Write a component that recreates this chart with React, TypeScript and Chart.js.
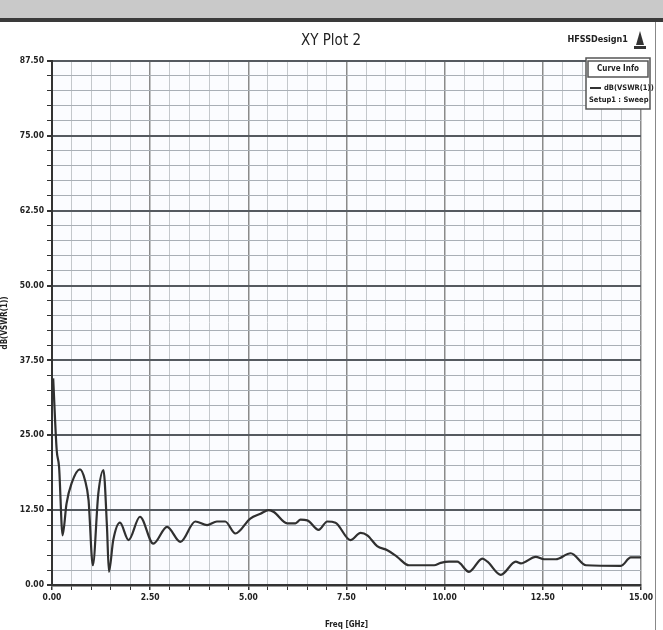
import React, { useEffect, useRef } from "react";
import { Chart, registerables } from "chart.js";

Chart.register(...registerables);

const freqGHz = [0.03, 0.12, 0.18, 0.27, 0.37, 0.5, 0.71, 0.84, 0.93, 1.04, 1.18, 1.31, 1.4, 1.45, 1.56, 1.73, 1.95, 2.24, 2.58, 2.93, 3.27, 3.65, 3.95, 4.2, 4.41, 4.67, 5.05, 5.31, 5.52, 5.65, 5.99, 6.2, 6.33, 6.5, 6.79, 7.01, 7.22, 7.6, 7.86, 8.03, 8.28, 8.54, 8.79, 9.09, 9.73, 9.9, 10.11, 10.32, 10.62, 10.96, 11.09, 11.43, 11.81, 11.94, 12.32, 12.53, 12.83, 13.21, 13.6, 14.49, 14.74, 15.0];
const dbVswr = [34.5, 22.5, 19.7, 8.3, 13.6, 17, 19.3, 17.5, 14.2, 3.3, 15.3, 19.2, 9.7, 2.2, 7.5, 10.4, 7.5, 11.4, 6.9, 9.7, 7.2, 10.6, 10, 10.6, 10.6, 8.6, 11.1, 11.9, 12.5, 12.2, 10.3, 10.3, 10.9, 10.8, 9.2, 10.6, 10.4, 7.5, 8.7, 8.3, 6.5, 5.8, 4.7, 3.3, 3.3, 3.7, 3.9, 3.9, 2.2, 4.4, 3.9, 1.7, 3.9, 3.6, 4.7, 4.3, 4.3, 5.3, 3.3, 3.2, 4.6, 4.6];
const titleText = "XY Plot 2";
const designText = "HFSSDesign1";
const xTitle = "Freq [GHz]";
const yTitle = "dB(VSWR(1))";
const legendHeader = "Curve Info";
const legendCurve = "dB(VSWR(1))";
const legendSetup = "Setup1 : Sweep";

const FONT = '"Liberation Sans Narrow", "DejaVu Sans Condensed", "Liberation Sans", sans-serif';

const decorPlugin = {
  id: "decor",
  beforeDraw(chart: any) {
    const ctx = chart.ctx;
    ctx.save();
    ctx.fillStyle = "#ffffff";
    ctx.fillRect(0, 0, chart.width, chart.height);
    ctx.fillStyle = "#c9c9c9";
    ctx.fillRect(0, 0, chart.width, 18);
    ctx.fillStyle = "#3a3a3a";
    ctx.fillRect(0, 18, chart.width, 4);
    const a = chart.chartArea;
    ctx.fillStyle = "#fbfcff";
    ctx.fillRect(a.left, a.top, a.right - a.left, a.bottom - a.top);
    ctx.fillStyle = "#222";
    ctx.textAlign = "center";
    ctx.textBaseline = "middle";
    ctx.font = `15px ${FONT}`;
    ctx.fillText(titleText, 331, 41);
    ctx.font = `bold 9px ${FONT}`;
    ctx.textAlign = "right";
    ctx.fillText(designText, 628, 40);
    ctx.fillStyle = "#333";
    ctx.beginPath();
    ctx.moveTo(640, 31);
    ctx.lineTo(644, 45);
    ctx.lineTo(636, 45);
    ctx.closePath();
    ctx.fill();
    ctx.fillRect(634, 46, 12, 3);
    ctx.restore();
  },
  afterDraw(chart: any) {
    const ctx = chart.ctx;
    ctx.save();
    ctx.fillStyle = "#ffffff";
    ctx.fillRect(586, 58, 64, 51);
    ctx.strokeStyle = "#555";
    ctx.lineWidth = 1.5;
    ctx.strokeRect(586, 58, 64, 51);
    ctx.strokeRect(588, 61, 60, 16);
    ctx.fillStyle = "#222";
    ctx.textBaseline = "middle";
    ctx.textAlign = "center";
    ctx.font = `bold 8px ${FONT}`;
    ctx.fillText(legendHeader, 618, 69);
    ctx.strokeStyle = "#333";
    ctx.lineWidth = 2;
    ctx.beginPath();
    ctx.moveTo(590, 88);
    ctx.lineTo(601, 88);
    ctx.stroke();
    ctx.textAlign = "left";
    ctx.font = `bold 7.5px ${FONT}`;
    ctx.fillText(legendCurve, 604, 88);
    ctx.fillText(legendSetup, 589, 100);
    ctx.strokeStyle = "#888";
    ctx.lineWidth = 1;
    ctx.beginPath();
    ctx.moveTo(655.5, 22);
    ctx.lineTo(655.5, 630);
    ctx.stroke();
    ctx.restore();
  },
};

const isMult = (n: number, m: number) => Math.abs(n / m - Math.round(n / m)) < 1e-6;

export default function App() {
  const ref = useRef<HTMLCanvasElement | null>(null);
  useEffect(() => {
    if (!ref.current) return;
    const chart = new Chart(ref.current, {
      type: "line",
      data: {
        datasets: [
          {
            label: legendCurve,
            data: freqGHz.map((f, i) => ({ x: f, y: dbVswr[i] })),
            borderColor: "#303030",
            borderWidth: 2.2,
            pointRadius: 0,
            cubicInterpolationMode: "monotone",
            fill: false,
          },
        ],
      },
      options: {
        animation: false,
        responsive: false,
        maintainAspectRatio: false,
        layout: { padding: { top: 61, right: 22, left: 0, bottom: 0 } },
        plugins: {
          legend: { display: false },
          title: { display: false },
          tooltip: { enabled: false },
        },
        scales: {
          x: {
            type: "linear",
            min: 0,
            max: 15,
            afterFit: (s: any) => {
              s.height = 45;
            },
            ticks: {
              stepSize: 0.5,
              autoSkip: false,
              maxRotation: 0,
              color: "#222",
              font: { family: FONT, size: 8.5, weight: "bold" },
              padding: 3,
              callback: (v: any) => {
                const n = Number(v);
                return isMult(n, 2.5) ? n.toFixed(2) : "";
              },
            },
            grid: {
              color: (c: any) => (isMult(c.tick ? c.tick.value : 0, 2.5) ? "#8a8a8a" : "#c4c8cc"),
              lineWidth: (c: any) => (isMult(c.tick ? c.tick.value : 0, 2.5) ? 1.5 : 1),
              tickLength: 5,
              tickColor: "#333",
            },
            border: { color: "#333", width: 2.5 },
            title: {
              display: true,
              text: xTitle,
              color: "#222",
              font: { family: FONT, size: 8, weight: "bold" },
              padding: { top: 0, bottom: 0 },
            },
          },
          y: {
            type: "linear",
            min: 0,
            max: 87.5,
            afterFit: (s: any) => {
              s.width = 52;
            },
            ticks: {
              stepSize: 2.5,
              autoSkip: false,
              color: "#222",
              font: { family: FONT, size: 8.5, weight: "bold" },
              padding: 3,
              callback: (v: any) => {
                const n = Number(v);
                return isMult(n, 12.5) ? n.toFixed(2) : "";
              },
            },
            grid: {
              color: (c: any) => (isMult(c.tick ? c.tick.value : 0, 12.5) ? "#555a60" : "#a9afb6"),
              lineWidth: (c: any) => (isMult(c.tick ? c.tick.value : 0, 12.5) ? 2 : 1),
              tickLength: 5,
              tickColor: "#333",
            },
            border: { color: "#333", width: 2 },
            title: {
              display: true,
              text: yTitle,
              color: "#222",
              font: { family: FONT, size: 8, weight: "bold" },
              padding: { top: 0, bottom: 2 },
            },
          },
        },
      },
      plugins: [decorPlugin],
    } as any);
    return () => chart.destroy();
  }, []);
  return (
    <div style={{ position: "fixed", left: 0, top: 0, width: 663, height: 630 }}>
      <canvas ref={ref} width={663} height={630} style={{ width: 663, height: 630, display: "block" }} />
    </div>
  );
}
